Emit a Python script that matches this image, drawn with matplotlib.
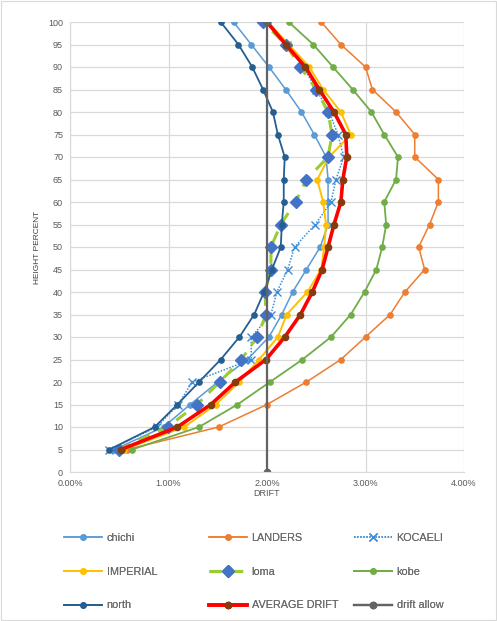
import numpy as np
import matplotlib
matplotlib.use("Agg")
import matplotlib.pyplot as plt
from matplotlib.ticker import FuncFormatter, MultipleLocator

plt.rcParams['font.family'] = ['Liberation Sans', 'DejaVu Sans']

# height percent levels
heights = [5, 10, 15, 20, 25, 30, 35, 40, 45, 50, 55, 60, 65, 70, 75, 80, 85, 90, 95, 100]

# drift values in percent (bottom to top)
chichi = [0.45, 0.95, 1.22, 1.50, 1.80, 2.02, 2.15, 2.26, 2.40, 2.54,
          2.62, 2.62, 2.62, 2.60, 2.48, 2.35, 2.19, 2.02, 1.84, 1.66]
landers = [0.58, 1.51, 2.00, 2.40, 2.75, 3.00, 3.25, 3.40, 3.60, 3.54,
           3.65, 3.74, 3.74, 3.50, 3.50, 3.31, 3.07, 3.00, 2.75, 2.55]
kocaeli = [0.40, 0.88, 1.10, 1.24, 1.84, 1.84, 2.04, 2.10, 2.21, 2.28,
           2.49, 2.65, 2.70, 2.78, 2.72, 2.63, 2.50, 2.37, 2.20, 1.98]
imperial = [0.55, 1.16, 1.48, 1.72, 1.92, 2.11, 2.20, 2.41, 2.55, 2.58,
            2.60, 2.57, 2.51, 2.63, 2.85, 2.75, 2.57, 2.43, 2.22, 2.01]
loma = [0.50, 0.99, 1.29, 1.52, 1.74, 1.90, 1.99, 1.98, 2.04, 2.04,
        2.14, 2.29, 2.40, 2.62, 2.66, 2.62, 2.50, 2.34, 2.19, 1.96]
kobe = [0.63, 1.31, 1.70, 2.03, 2.36, 2.65, 2.85, 2.99, 3.11, 3.17,
        3.21, 3.19, 3.31, 3.33, 3.19, 3.06, 2.87, 2.67, 2.47, 2.22]
north = [0.40, 0.86, 1.09, 1.31, 1.53, 1.72, 1.87, 1.97, 2.05, 2.14,
         2.15, 2.17, 2.17, 2.18, 2.11, 2.06, 1.96, 1.85, 1.71, 1.53]
average = [0.52, 1.09, 1.43, 1.68, 1.99, 2.18, 2.34, 2.46, 2.56, 2.62,
           2.68, 2.75, 2.77, 2.81, 2.80, 2.68, 2.53, 2.39, 2.19, 2.00]
allow_h = [0, 100]
allow_d = [2.00, 2.00]

fig = plt.figure(figsize=(4.97, 6.21), dpi=100)
ax = fig.add_axes([70 / 497, 1 - 472 / 621, 394 / 497, 450 / 621])

to_frac = lambda v: np.array(v) / 100.0

ax.plot(to_frac(chichi), heights, color='#5B9BD5', lw=1.1, marker='o', ms=3.8, label='chichi')
ax.plot(to_frac(landers), heights, color='#ED7D31', lw=1.1, marker='o', ms=3.8, label='LANDERS')
ax.plot(to_frac(kocaeli), heights, color='#3C8DD8', lw=1.1, ls=(0, (1, 1)), marker='x', ms=6,
        mew=1.0, label='KOCAELI')
ax.plot(to_frac(imperial), heights, color='#FFC000', lw=1.4, marker='o', ms=3.8, label='IMPERIAL')
ax.plot(to_frac(loma), heights, color='#9ACD32', lw=2.2, ls=(0, (4, 3)), marker='D', ms=6.5,
        mfc='#4472C4', mec='#4472C4', label='loma')
ax.plot(to_frac(kobe), heights, color='#70AD47', lw=1.3, marker='o', ms=3.8, label='kobe')
ax.plot(to_frac(north), heights, color='#255E91', lw=1.3, marker='o', ms=3.8, label='north')
ax.plot(to_frac(average), heights, color='#FF0000', lw=2.6, marker='o', ms=4.5,
        mfc='#843C0C', mec='#843C0C', label='AVERAGE DRIFT')
ax.plot(to_frac(allow_d), allow_h, color='#636363', lw=1.6, marker='o', ms=4.5, label='drift allow')

ax.set_xlim(0, 0.04)
ax.set_ylim(0, 100)
ax.xaxis.set_major_locator(MultipleLocator(0.01))
ax.yaxis.set_major_locator(MultipleLocator(5))
ax.xaxis.set_major_formatter(FuncFormatter(lambda v, p: f"{v * 100:.2f}%"))
ax.grid(True, color='#D9D9D9', lw=0.9)
ax.set_axisbelow(True)
for s in ['top', 'right']:
    ax.spines[s].set_visible(False)
for s in ['left', 'bottom']:
    ax.spines[s].set_color('#D9D9D9')
ax.tick_params(length=0, labelsize=6.5, labelcolor='#595959', pad=5)
ax.set_xlabel('DRIFT', fontsize=6.5, color='#595959', labelpad=1)
ax.set_ylabel('HEIGHT PERCENT', fontsize=6, color='#404040', labelpad=5, fontstretch='condensed')

# legend: three columns, each its own legend so the x positions match
h, l = ax.get_legend_handles_labels()
columns = [[0, 3, 6], [1, 4, 7], [2, 5, 8]]
col_x = [54, 199, 344]
for idx, x0 in zip(columns, col_x):
    leg = fig.legend([h[i] for i in idx], [l[i] for i in idx], loc='upper left',
                     bbox_to_anchor=(x0 / 497, 1 - 523 / 621), frameon=False, fontsize=7.8,
                     labelcolor='#6A6A6A', handlelength=3.5, labelspacing=2.2,
                     handletextpad=0.45)
    fig.add_artist(leg)

fig.patches.append(plt.Rectangle((0.002, 0.002), 0.996, 0.996, transform=fig.transFigure,
                                 fill=False, ec='#D9D9D9', lw=0.8))

fig.savefig('out.png', dpi=100)
